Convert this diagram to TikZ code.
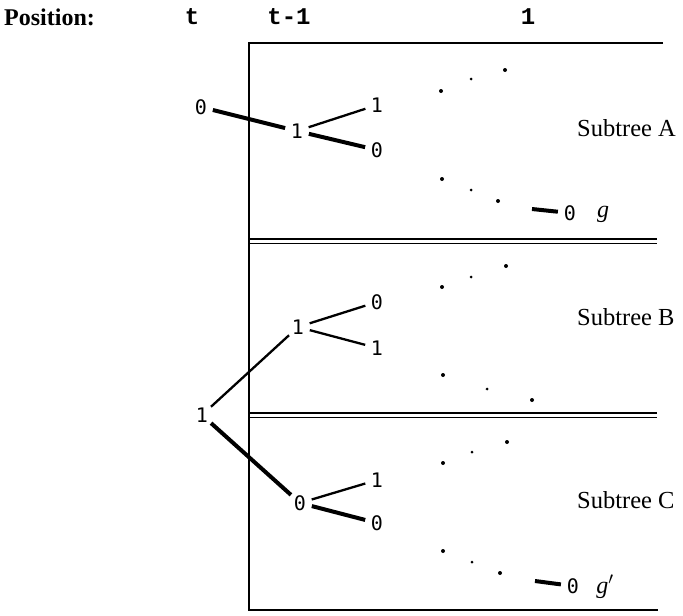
\documentclass[tikz,border=0pt]{standalone}
\usepackage{fontspec}
\setmainfont{Liberation Serif}
\newfontfamily\digfont{DejaVu Sans Mono}
\newfontfamily\headmono{Liberation Mono}
\begin{document}
\begin{tikzpicture}[x=1pt,y=-1pt,
  dig/.style={circle,inner sep=0pt,minimum size=24pt,font=\digfont\fontsize{20}{20}\selectfont},
  hdr/.style={inner sep=0pt,font=\headmono\bfseries\fontsize{24}{24}\selectfont},
  lbl/.style={anchor=west,inner sep=0pt,font=\fontsize{24.5}{24.5}\selectfont},
  gl/.style={inner sep=0pt,font=\itshape\fontsize{24}{24}\selectfont},
  thickedge/.style={line width=4pt},
  thinedge/.style={line width=2.3pt},
  boxline/.style={line width=2pt},
  dbl/.style={line width=1.4pt},
]
\useasboundingbox (0,0) rectangle (683,616);

% header
\node[anchor=west,inner sep=0pt,font=\bfseries\fontsize{24}{24}\selectfont] (pos) at (4,17) {Position:};
\node[hdr] (ht) at (192,17) {t};
\node[hdr] (ht1) at (289,17) {t-1};
\node[hdr] (h1) at (528,17) {1};

% frame
\draw[boxline] (663,43) -- (249,43) -- (249,610) -- (658,610);
\draw[dbl] (249,239) -- (657,239);
\draw[dbl] (249,243.5) -- (657,243.5);
\draw[dbl] (249,413) -- (657,413);
\draw[dbl] (249,417.5) -- (657,417.5);

% tree nodes
\node[dig] (a0) at (201,107) {0};
\node[dig] (a1) at (297,131) {1};
\node[dig] (a11) at (377,105) {1};
\node[dig] (a10) at (377,150) {0};
\node[dig] (b1) at (298,327) {1};
\node[dig] (b10) at (377,302) {0};
\node[dig] (b11) at (377,348) {1};
\node[dig] (r) at (202,415) {1};
\node[dig] (c0) at (300,503) {0};
\node[dig] (c01) at (377,480) {1};
\node[dig] (c00) at (377,523) {0};

\draw[thickedge] (a0) -- (a1);
\draw[thinedge] (a1) -- (a11);
\draw[thickedge] (a1) -- (a10);
\draw[thinedge] (r) -- (b1);
\draw[thinedge] (b1) -- (b10);
\draw[thinedge] (b1) -- (b11);
\draw[thickedge] (r) -- (c0);
\draw[thinedge] (c0) -- (c01);
\draw[thickedge] (c0) -- (c00);

% leaves at position 1
\node[dig] (ga) at (570,213) {0};
\node[gl] (g) at (603,214) {g};
\coordinate (da) at (532,209);
\draw[thickedge] (da) -- (ga);
\node[dig] (gc) at (573,586) {0};
\node[gl] (gp) at (605,587) {g$'$};
\coordinate (dc) at (535,581);
\draw[thickedge] (dc) -- (gc);

% dots
\foreach \x/\y/\r in {441/91/2.0, 471/79/1.5, 505/70/2.0,
                      442/179/2.0, 471/190/1.5, 498/201/2.0,
                      442/287/2.0, 471/277/1.5, 506/266/2.0,
                      443/375/2.0, 487/389/1.5, 532/400/2.0,
                      443/463/2.0, 472/452/1.5, 507/442/2.0,
                      443/551/2.0, 472/562/1.5, 500/573/2.0}
  \fill (\x,\y) circle (\r);

% labels
\node[lbl] (sa) at (577,128) {Subtree A};
\node[lbl] (sb) at (577,317) {Subtree B};
\node[lbl] (sc) at (577,500) {Subtree C};
\end{tikzpicture}
\end{document}
